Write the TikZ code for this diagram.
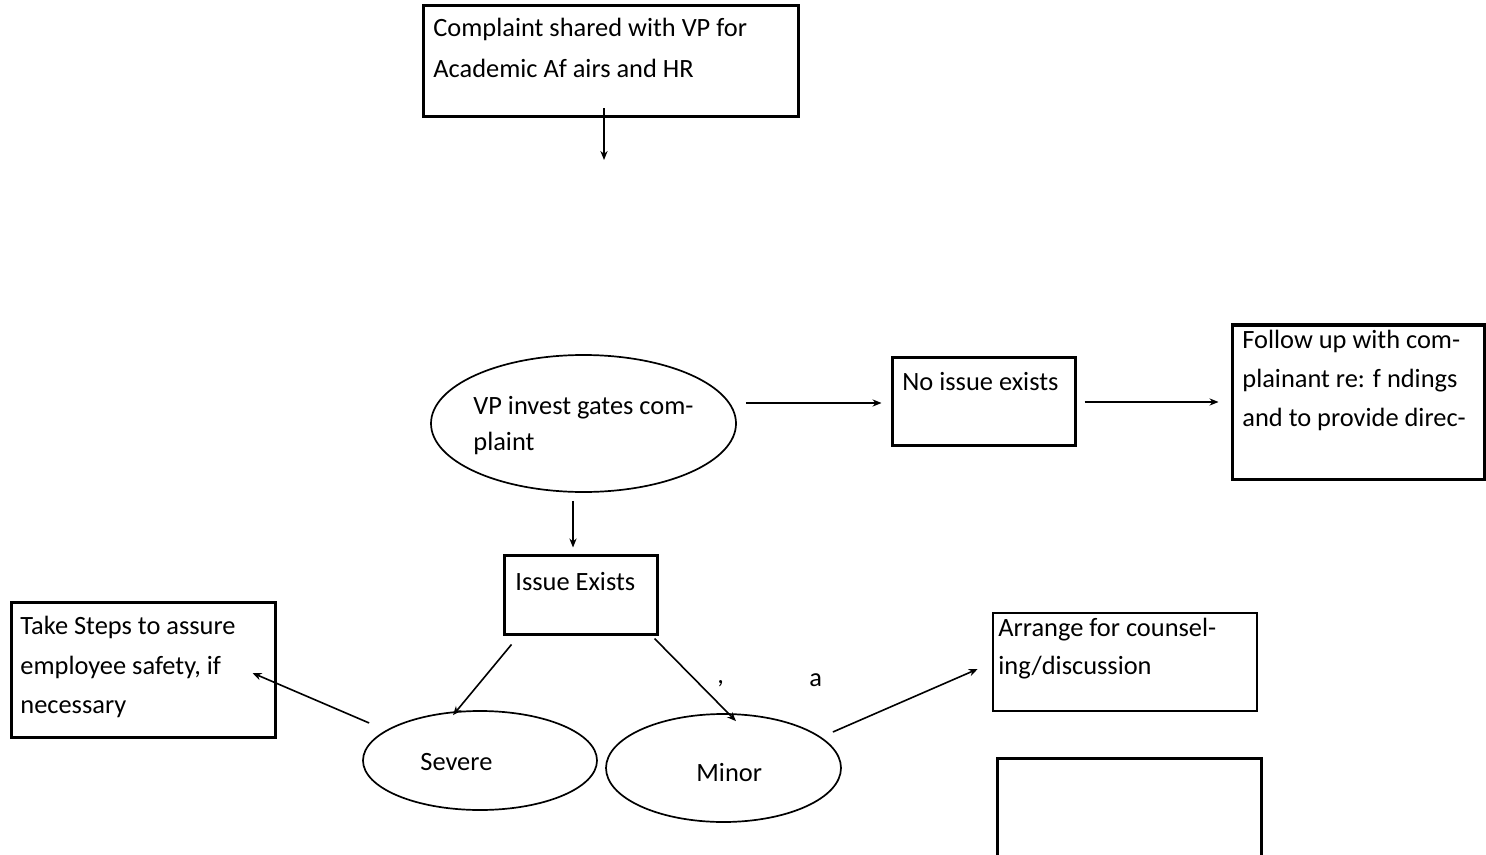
\documentclass[tikz,border=0pt]{standalone}
\usepackage{fontspec}
\setmainfont{Carlito}
\usetikzlibrary{arrows.meta,calc,fit,shapes.geometric}
\begin{document}
\begin{tikzpicture}[x=0.5pt,y=-0.5pt,
  box/.style={draw,line width=1.5pt,inner sep=0pt},
  ell/.style={draw,ellipse,line width=0.85pt,inner sep=0pt},
  txt/.style={anchor=base west,inner sep=0pt,font=\fontsize{13.2pt}{16pt}\selectfont},
  arr/.style={line width=0.8pt,-{Stealth[length=4.5pt,width=3.6pt]}}]
\useasboundingbox[fill=white] (0,0) rectangle (1486,855);

% boxes
\node[box,fit={(423,6)(798,117)}] (b1) {};
\node[box,fit={(892,357)(1075,445)}] (noissue) {};
\node[box,fit={(1232,325)(1484,479)}] (follow) {};
\node[box,fit={(504,555)(657,634)}] (issue) {};
\node[box,fit={(11,602)(275,737)}] (steps) {};
\node[box,line width=1.3pt,fit={(993,613)(1257,711)}] (arrange) {};
\node[box,fit={(997,758)(1261,880)}] (empty) {};

% ellipses
\node[ell,minimum width=152.5pt,minimum height=68.5pt] (vp) at (583.5,423.5) {};
\node[ell,minimum width=117pt,minimum height=49.5pt] (severe) at (480,760.5) {};
\node[ell,minimum width=117.5pt,minimum height=54pt] (minor) at (723.5,768) {};

% texts
\node[txt] (t1a) at (433,37) {Complaint shared with VP for};
\node[txt] (t1b) at (433,78) {Academic Af airs and HR};
\node[txt] (t2a) at (473,414) {VP invest gates com-};
\node[txt] (t2b) at (473,450) {plaint};
\node[txt] (t3) at (902,390) {No issue exists};
\node[txt] (t4a) at (1242,348) {Follow up with com-};
\node[txt] (t4b) at (1242,387) {plainant re: f ndings};
\node[txt] (t4c) at (1242,426) {and to provide direc-};
\node[txt] (t5) at (515,590) {Issue Exists};
\node[txt] (t6a) at (20,634) {Take Steps to assure};
\node[txt] (t6b) at (20,674) {employee safety, if};
\node[txt] (t6c) at (20,713) {necessary};
\node[txt] (t7) at (420,770) {Severe};
\node[txt] (t8) at (696,781) {Minor};
\node[txt] (t9a) at (998,636) {Arrange for counsel-};
\node[txt] (t9b) at (998,674) {ing/discussion};
\node[txt] (s1) at (717,683) {,};
\node[txt] (s2) at (809,686) {a};

% connectors
\coordinate (c1) at (604,160);
\draw[arr] ($(b1.south -| c1)+(0,-10)$) -- (c1);
\draw[arr] ($(vp.east)+(9,-20.5)$) -- ($(noissue.west)+(-9,2)$);
\draw[arr] ($(noissue.east)+(8,1)$) -- ($(follow.west)+(-12,0)$);
\draw[arr] ($(vp.south)+(-10.5,8)$) -- ($(issue.north)+(-7.5,-6)$);
\draw[arr] ($(issue.south west)+(9,9)$) -- ($(severe.north)+(-27,5)$);
\draw[arr] ($(issue.south east)+(-4,3)$) -- ($(minor.north)+(12.5,8)$);
\draw[arr] ($(severe.west)+(7,-37.5)$) -- ($(steps.east)+(-24,3.5)$);
\draw[arr] ($(minor.east)+(-9,-36)$) -- ($(arrange.west)+(-14,7)$);
\end{tikzpicture}
\end{document}
